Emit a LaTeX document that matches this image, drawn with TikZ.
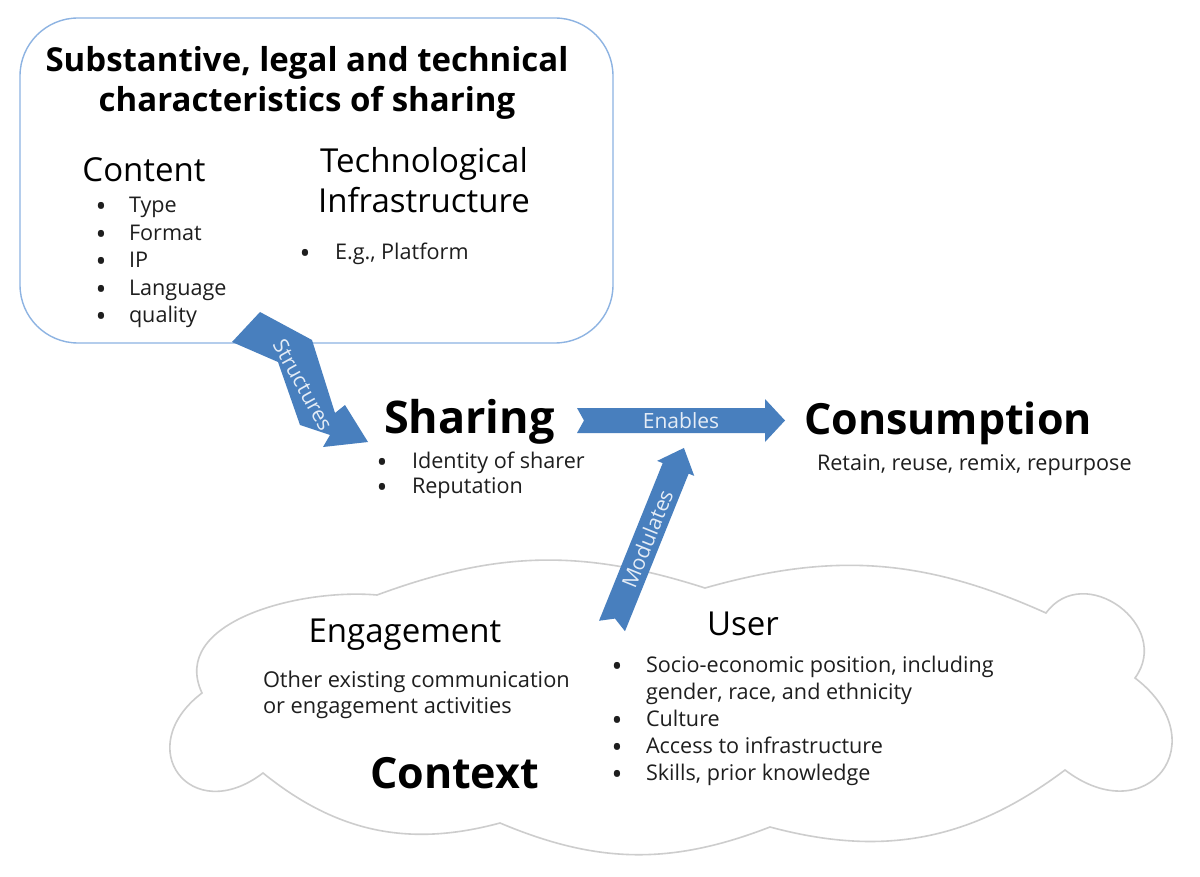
\documentclass[tikz,border=0pt]{standalone}
\usepackage{fontspec}
\setmainfont{Open Sans}
\definecolor{arrowblue}{RGB}{72,127,190}
\definecolor{boxblue}{RGB}{141,179,226}
\definecolor{cloudgray}{RGB}{205,205,205}
\definecolor{labelwhite}{RGB}{228,236,246}
\definecolor{bodytext}{RGB}{30,30,30}
% block arrow: length, shaft half width, head half width, head length, notch
\newcommand{\blkarrow}[5]{%
  \fill[arrowblue] (0,#2) -- ({#1-#4},#2) -- ({#1-#4},#3) -- (#1,0) -- ({#1-#4},-#3) -- ({#1-#4},-#2) -- (0,-#2) -- (#5,0) -- cycle;}
\newcommand{\bul}{\makebox[0pt][c]{\raisebox{-4pt}{\fontsize{29}{29}\selectfont •}}}
\begin{document}
\begin{tikzpicture}[x=1pt,y=-1pt,
  every node/.style={inner sep=0pt, outer sep=0pt},
  head/.style={font=\fontsize{33}{40}\selectfont, text=black},
  bighead/.style={font=\fontsize{43}{50}\selectfont\bfseries, text=black},
  body/.style={font=\fontsize{21.6}{27.5}\selectfont, text=bodytext},
  arrowlabel/.style={font=\fontsize{21}{24}\selectfont, text=labelwhite},
  cloudline/.style={draw=cloudgray, line width=1.6pt, fill=white},
  boxline/.style={draw=boxblue, line width=1.4pt, fill=white, rounded corners=58pt}]
\useasboundingbox (0,0) rectangle (1200,877);
\fill[white] (0,0) rectangle (1200,877);

% cloud
\draw[cloudline] (377,595) to[bend left=19] (705,588) to[bend left=20] (1046,613)
  to[bend left=90, looseness=1.5] (1135,678) to[bend left=90, looseness=2.3] (1065,770)
  to[bend left=26] (770,827) to[bend left=22] (500,823) to[bend left=27] (263,773)
  to[bend left=90, looseness=2.3] (202,693) to[out=115, in=175, looseness=1] (377,595) -- cycle;

% box
\node[boxline, minimum width=593pt, minimum height=325pt] (box) at (316.5,180.5) {};

% Structures arrow
\fill[arrowblue] (232,342) -- (260,312) -- (312,340) -- (335,413) -- (345,405) -- (368,442)
  -- (323,447) -- (330,435) -- (300,425) -- (278,362) -- cycle;
\node[arrowlabel, rotate=-61] (structures) at (303,385) {Structures};

% Enables arrow
\begin{scope}[shift={(577,420.5)}]
  \blkarrow{208}{12.5}{21.5}{20}{7}
  \node[arrowlabel] (enables) at (104,0) {Enables};
\end{scope}

% Modulates arrow
\begin{scope}[shift={(612,626)}, rotate=68]
  \blkarrow{192}{14}{20}{22}{8}
  \node[arrowlabel, rotate=68] (modulates) at (94,0) {Modulates};
\end{scope}

% box texts
\node[font=\fontsize{33}{40}\selectfont\bfseries, anchor=base] (title) at (307,72)
  {\begin{tabular}[t]{@{}c@{}}Substantive, legal and technical\\characteristics of sharing\end{tabular}};
\node[head, anchor=base] (hcontent) at (144,182) {Content};
\node[body, anchor=base west] (lcontent) at (101,213)
  {\begin{tabular}[t]{@{}p{28pt}@{}l@{}}\bul&Type\\\bul&Format\\\bul&IP\\\bul&Language\\\bul&quality\end{tabular}};
\node[head, anchor=base] (htech) at (424,173)
  {\begin{tabular}[t]{@{}c@{}}Technological\\Infrastructure\end{tabular}};
\node[body, anchor=base west] (ltech) at (305,260)
  {\begin{tabular}[t]{@{}p{30pt}@{}l@{}}\bul&E.g., Platform\end{tabular}};

% Sharing
\node[bighead, font=\fontsize{45}{50}\selectfont\bfseries, anchor=base west] (sharing) at (384,433) {Sharing};
\node[body, font=\fontsize{21.6}{25}\selectfont, anchor=base west] (lsharing) at (382,468)
  {\begin{tabular}[t]{@{}p{30pt}@{}l@{}}\bul&Identity of sharer\\\bul&Reputation\end{tabular}};

% Consumption
\node[bighead, anchor=base west] (consumption) at (804,435) {Consumption};
\node[body, anchor=base west] (retain) at (817,470) {Retain, reuse, remix, repurpose};

% Context cloud texts
\node[head, anchor=base] (hengage) at (405,642) {Engagement};
\node[body, font=\fontsize{21.8}{26}\selectfont, anchor=base west] (other) at (263,687)
  {\begin{tabular}[t]{@{}l@{}}Other existing communication\\or engagement activities\end{tabular}};
\node[bighead, anchor=base west] (context) at (370,788) {Context};
\node[head, anchor=base] (huser) at (743,635) {User};
\node[body, font=\fontsize{21.6}{27}\selectfont, anchor=base west] (luser) at (617,672)
  {\begin{tabular}[t]{@{}p{29pt}@{}l@{}}\bul&Socio-economic position, including\\&gender, race, and ethnicity\\\bul&Culture\\\bul&Access to infrastructure\\\bul&Skills, prior knowledge\end{tabular}};
\end{tikzpicture}
\end{document}
